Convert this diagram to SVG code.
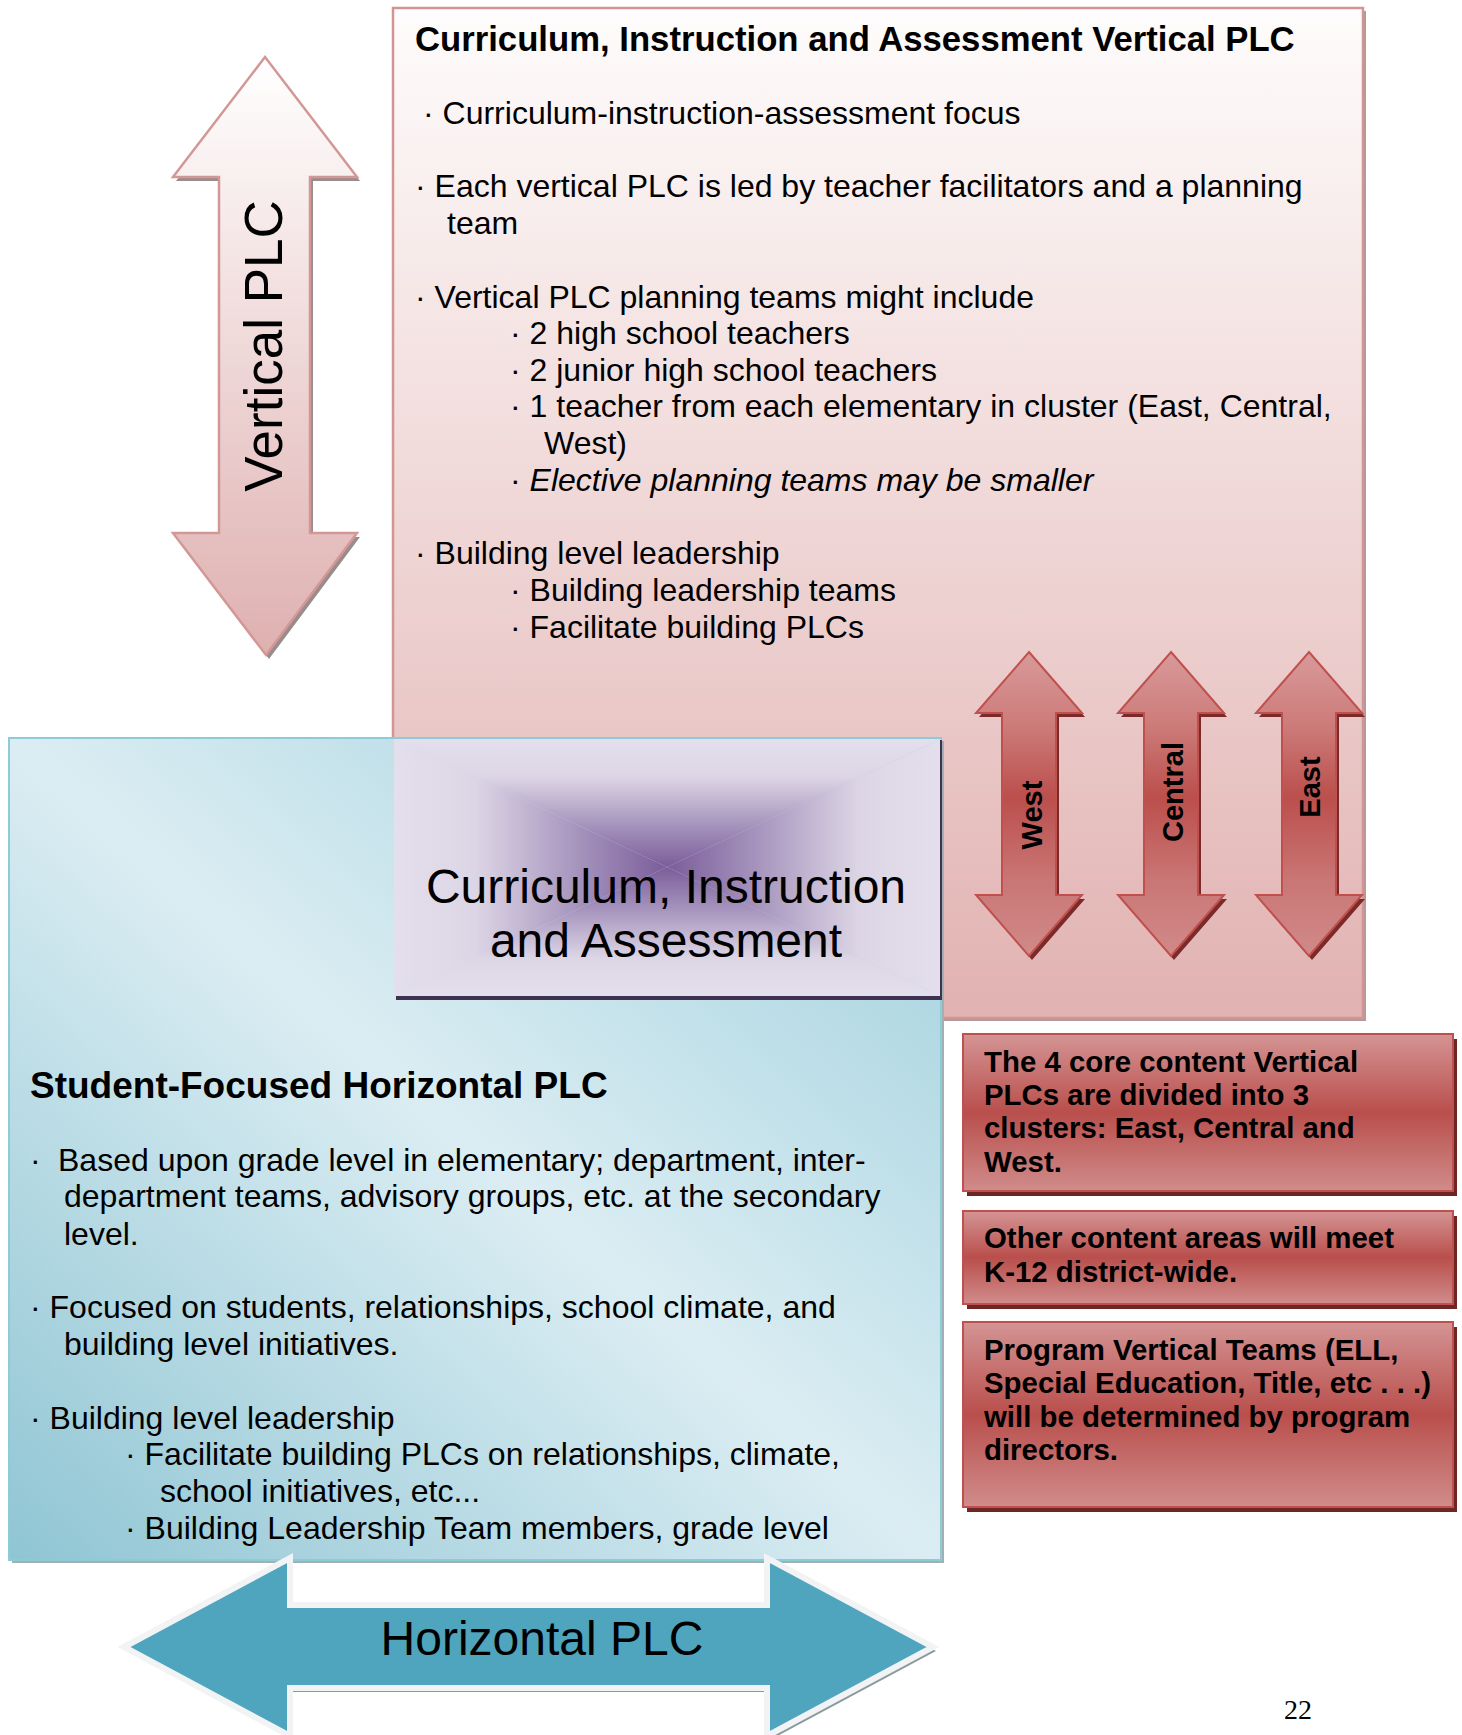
<svg xmlns="http://www.w3.org/2000/svg" width="1462" height="1735" viewBox="0 0 1462 1735">
<defs>
<linearGradient id="gPink" x1="0" y1="0" x2="0" y2="1">
<stop offset="0" stop-color="#fefcfc"/>
<stop offset="1" stop-color="#e1b2b1"/>
</linearGradient>
<linearGradient id="gVert" x1="0" y1="0" x2="0" y2="1">
<stop offset="0" stop-color="#ffffff"/>
<stop offset="1" stop-color="#dfb0b0"/>
</linearGradient>
<linearGradient id="gSmall" x1="0" y1="0" x2="0" y2="1">
<stop offset="0" stop-color="#d89a9a"/>
<stop offset="0.25" stop-color="#cc7a78"/>
<stop offset="0.48" stop-color="#bb4f4c"/>
<stop offset="0.75" stop-color="#c97675"/>
<stop offset="1" stop-color="#d08a89"/>
</linearGradient>
<linearGradient id="gRed" x1="0" y1="0" x2="0" y2="1">
<stop offset="0" stop-color="#d49494"/>
<stop offset="0.5" stop-color="#b94f4c"/>
<stop offset="1" stop-color="#d08c8b"/>
</linearGradient>
<linearGradient id="gTeal" x1="0" y1="1" x2="1" y2="0">
<stop offset="0" stop-color="#8fc5d3"/>
<stop offset="0.5" stop-color="#dbedf3"/>
<stop offset="1" stop-color="#9ccedb"/>
</linearGradient>
<linearGradient id="gLavT" x1="0" y1="0" x2="0" y2="1">
<stop offset="0" stop-color="#e4dfec"/>
<stop offset="0.3" stop-color="#dcd5e5"/>
<stop offset="0.7" stop-color="#a28fba"/>
<stop offset="1" stop-color="#7b5d9a"/>
</linearGradient>
<linearGradient id="gLavB" x1="0" y1="1" x2="0" y2="0">
<stop offset="0" stop-color="#e4dfec"/>
<stop offset="0.3" stop-color="#dcd5e5"/>
<stop offset="0.7" stop-color="#a28fba"/>
<stop offset="1" stop-color="#7b5d9a"/>
</linearGradient>
<linearGradient id="gLavL" x1="0" y1="0" x2="1" y2="0">
<stop offset="0" stop-color="#e4dfec"/>
<stop offset="0.3" stop-color="#dcd5e5"/>
<stop offset="0.7" stop-color="#a28fba"/>
<stop offset="1" stop-color="#7b5d9a"/>
</linearGradient>
<linearGradient id="gLavR" x1="1" y1="0" x2="0" y2="0">
<stop offset="0" stop-color="#e4dfec"/>
<stop offset="0.3" stop-color="#dcd5e5"/>
<stop offset="0.7" stop-color="#a28fba"/>
<stop offset="1" stop-color="#7b5d9a"/>
</linearGradient>
<path id="smallArrow" d="M0,0 L53,61 L27,61 L27,243 L53,243 L0,304 L-53,243 L-27,243 L-27,61 L-53,61 Z"/>
<style>
text { font-family: "Liberation Sans", Arial, sans-serif; fill: #000; }
.body { font-size: 32px; }
.title { font-size: 34.7px; font-weight: bold; }
.title2 { font-size: 37px; font-weight: bold; }
.big { font-size: 48px; }
.redtxt { font-size: 29.4px; font-weight: bold; }
.dir { font-size: 29px; font-weight: bold; }
.redbox { fill: url(#gRed); stroke: #c0504d; stroke-width: 2; }
.redshadow { fill: #6e2624; }
</style>
</defs>

<g id="vertical-arrow">
<path transform="translate(3,4)" fill="#9a8c8c" d="M265,57 L357,177 L310,177 L310,533 L357,533 L266,655 L173,533 L219,533 L219,177 L173,177 Z"/>
<path fill="url(#gVert)" stroke="#d39896" stroke-width="2.5" d="M265,57 L357,177 L310,177 L310,533 L357,533 L266,655 L173,533 L219,533 L219,177 L173,177 Z"/>
<text text-anchor="middle" transform="translate(282,346) rotate(-90)" style="font-size:53px">Vertical PLC</text>
</g>

<g id="vertical-plc-box">
<rect x="396" y="11" width="970" height="1010" fill="#b19a9a"/>
<rect x="393" y="8" width="970" height="1010" fill="url(#gPink)" stroke="#d39494" stroke-width="2.5"/>
<text class="title" x="415" y="51">Curriculum, Instruction and Assessment Vertical PLC</text>
<text class="body" x="423" y="124">· Curriculum-instruction-assessment focus</text>
<text class="body" x="415" y="197">· Each vertical PLC is led by teacher facilitators and a planning</text>
<text class="body" x="447" y="234">team</text>
<text class="body" x="415" y="308">· Vertical PLC planning teams might include</text>
<text class="body" x="510" y="344">· 2 high school teachers</text>
<text class="body" x="510" y="381">· 2 junior high school teachers</text>
<text class="body" x="510" y="417">· 1 teacher from each elementary in cluster (East, Central,</text>
<text class="body" x="544" y="454">West)</text>
<text class="body" x="510" y="491">· <tspan font-style="italic">Elective planning teams may be smaller</tspan></text>
<text class="body" x="415" y="564">· Building level leadership</text>
<text class="body" x="510" y="601">· Building leadership teams</text>
<text class="body" x="510" y="638">· Facilitate building PLCs</text>
</g>

<g id="west-arrow">
<use href="#smallArrow" transform="translate(1032,656)" fill="#7a2b29"/>
<use href="#smallArrow" transform="translate(1029,652)" fill="url(#gSmall)" stroke="#c0504d" stroke-width="2"/>
<text class="dir" text-anchor="middle" transform="translate(1042,815) rotate(-90)">West</text>
</g>
<g id="central-arrow">
<use href="#smallArrow" transform="translate(1174,656)" fill="#7a2b29"/>
<use href="#smallArrow" transform="translate(1171,652)" fill="url(#gSmall)" stroke="#c0504d" stroke-width="2"/>
<text class="dir" text-anchor="middle" transform="translate(1183,792) rotate(-90)">Central</text>
</g>
<g id="east-arrow">
<use href="#smallArrow" transform="translate(1312,656)" fill="#7a2b29"/>
<use href="#smallArrow" transform="translate(1309,652)" fill="url(#gSmall)" stroke="#c0504d" stroke-width="2"/>
<text class="dir" text-anchor="middle" transform="translate(1320,787) rotate(-90)">East</text>
</g>

<g id="horizontal-plc-box">
<rect x="12" y="741" width="932" height="822" fill="#a2b0b4"/>
<rect x="9" y="738" width="932" height="822" fill="url(#gTeal)" stroke="#8ecbd9" stroke-width="2"/>
<text class="title2" x="30" y="1098">Student-Focused Horizontal PLC</text>
<text class="body" x="30" y="1171">·</text>
<text class="body" x="58" y="1171">Based upon grade level in elementary; department, inter-</text>
<text class="body" x="64" y="1207">department teams, advisory groups, etc. at the secondary</text>
<text class="body" x="64" y="1245">level.</text>
<text class="body" x="30" y="1318">· Focused on students, relationships, school climate, and</text>
<text class="body" x="64" y="1355">building level initiatives.</text>
<text class="body" x="30" y="1429">· Building level leadership</text>
<text class="body" x="125" y="1465">· Facilitate building PLCs on relationships, climate,</text>
<text class="body" x="160" y="1502">school initiatives, etc...</text>
<text class="body" x="125" y="1539">· Building Leadership Team members, grade level</text>
</g>

<g id="cia-center">
<path d="M394,739 L941,739 L667,867 Z" fill="url(#gLavT)"/>
<path d="M394,996 L941,996 L667,867 Z" fill="url(#gLavB)"/>
<path d="M394,739 L394,996 L667,867 Z" fill="url(#gLavL)"/>
<path d="M941,739 L941,996 L667,867 Z" fill="url(#gLavR)"/>
<line x1="396" y1="998" x2="941" y2="998" stroke="#3f3151" stroke-width="4"/>
<line x1="941" y1="740" x2="941" y2="1000" stroke="#3f3151" stroke-width="2"/>
<text class="big" x="666" y="903" text-anchor="middle">Curriculum, Instruction</text>
<text class="big" x="666" y="957" text-anchor="middle">and Assessment</text>
</g>

<g id="horizontal-arrow">
<path transform="translate(3,4)" fill="#8a9a9f" d="M124,1647 L290,1558 L290,1605 L767,1605 L767,1558 L933,1647 L767,1736 L767,1688 L290,1688 L290,1736 Z"/>
<path fill="#4fa5bd" stroke="#f1f3f4" stroke-width="6" stroke-linejoin="miter" d="M124,1647 L290,1558 L290,1605 L767,1605 L767,1558 L933,1647 L767,1736 L767,1688 L290,1688 L290,1736 Z"/>
<text class="big" x="542" y="1655" text-anchor="middle">Horizontal PLC</text>
</g>

<g id="note-clusters">
<rect class="redshadow" x="967" y="1039" width="490" height="157"/>
<rect class="redbox" x="963" y="1034" width="490" height="157"/>
<text class="redtxt" x="984" y="1072">The 4 core content Vertical</text>
<text class="redtxt" x="984" y="1105">PLCs are divided into 3</text>
<text class="redtxt" x="984" y="1138">clusters: East, Central and</text>
<text class="redtxt" x="984" y="1172">West.</text>
</g>
<g id="note-other">
<rect class="redshadow" x="967" y="1216" width="490" height="93"/>
<rect class="redbox" x="963" y="1211" width="490" height="93"/>
<text class="redtxt" x="984" y="1248">Other content areas will meet</text>
<text class="redtxt" x="984" y="1282">K-12 district-wide.</text>
</g>
<g id="note-program">
<rect class="redshadow" x="967" y="1327" width="490" height="185"/>
<rect class="redbox" x="963" y="1322" width="490" height="185"/>
<text class="redtxt" x="984" y="1360">Program Vertical Teams (ELL,</text>
<text class="redtxt" x="984" y="1393">Special Education, Title, etc . . .)</text>
<text class="redtxt" x="984" y="1427">will be determined by program</text>
<text class="redtxt" x="984" y="1460">directors.</text>
</g>

<g id="connectors"></g>

<text x="1284" y="1719" style="font-family:'Liberation Serif','Times New Roman',serif;font-size:28px">22</text>
</svg>
